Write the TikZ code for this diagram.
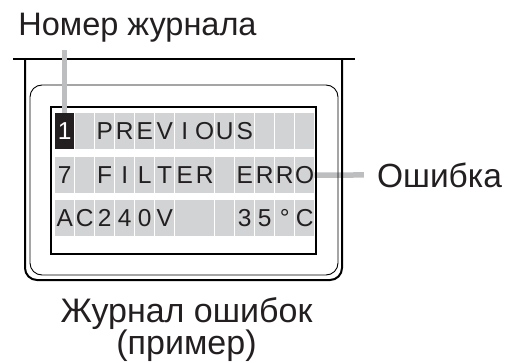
\documentclass[tikz,border=0pt]{standalone}
\usepackage{fontspec}
\setmainfont{Liberation Sans}
\usetikzlibrary{positioning, calc, backgrounds}
\definecolor{inkgray}{HTML}{231F20}
\definecolor{cellgray}{HTML}{D1D3D4}
\definecolor{leadgray}{HTML}{BCBEC0}
\tikzset{
	labeltext/.style={font=\fontsize{#1}{32}\selectfont\color{inkgray}, inner sep=0pt},
	labeltext/.default=33
}
\tikzset{
	lcdcell/.style={fill=cellgray, minimum width=19pt, minimum height=36pt, inner sep=0pt,
		text height=17pt, text depth=0pt, font=\fontsize{24.5}{24.5}\selectfont, text=inkgray}
}
\tikzset{
	leader/.style={draw=leadgray, line width=5.5pt},
	cell1-1/.style={fill=inkgray, text=white}
}
% one row of the display: #1 row number, #2 top edge, #3 characters
\newcommand{\lcdrow}[3]{
	\foreach \ch [count=\col] in {#3} {
		\node[lcdcell, anchor=north west, cell#1-\col/.try] (c#1-\col) at ({55+20*(\col-1)}, #2) {\ch};
	}
	\fill[cellgray] (c#1-7.north east) rectangle (c#1-8.south west);
}

\begin{document}
\begin{tikzpicture}[x=1pt, y=-1pt]
	\useasboundingbox (0,0) rectangle (518,363);
	\node[labeltext=32.5, anchor=base] (title) at (137.5,36) {Номер журнала};
	\node[labeltext=33.5, anchor=base] (err) at (439.5,187) {Ошибка};
	\node[labeltext=34, anchor=north, align=center] (caption) at (186.5,297.5) {Журнал ошибок\\(пример)};
	% housing
	\draw[line width=2.5pt] (13,59) -- (355,59);
	\draw[line width=2pt, rounded corners=12pt] (25,59) -- (25,280) -- (342,280) -- (342,59);
	\draw[line width=0.9pt, rounded corners=12pt] (30,85) rectangle (338,275);
	\draw[line width=1.8pt] (51,107) rectangle (316,254);
	% display
	\lcdrow{1}{113}{1,,P,R,E,V,I,O,U,S,,,}
	\lcdrow{2}{157}{7,,F,I,L,T,E,R,,E,R,R,O}
	\lcdrow{3}{200}{A,C,2,4,0,V,,,,3,5,°,C}
	% leaders
	\draw[leader, shorten >=7.5pt] (c1-1.north) -- (c1-1.north |- title.south);
	\begin{pgfonlayer}{background}
		\draw[leader, shorten >=13pt] (c2-13.east) -- (err.west);
	\end{pgfonlayer}
\end{tikzpicture}
\end{document}
